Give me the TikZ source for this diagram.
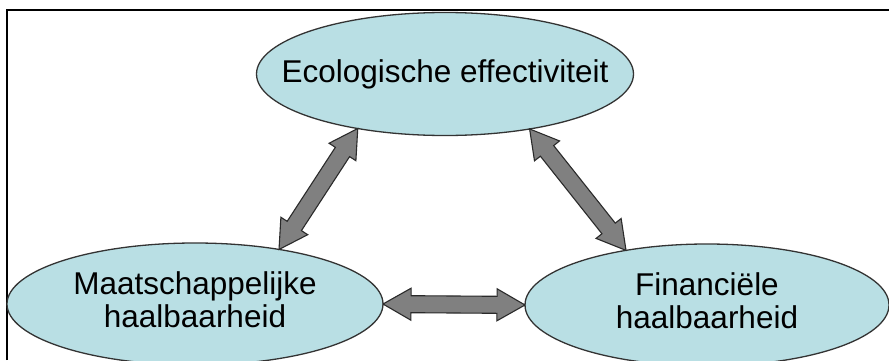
\documentclass[tikz,border=0pt]{standalone}
\usepackage{fontspec}
\setmainfont{Liberation Sans}
\usetikzlibrary{calc,shapes.geometric}

\definecolor{bubble}{HTML}{B9DFE4}
\definecolor{bubbleline}{HTML}{333333}
\definecolor{arrowfill}{HTML}{808080}
\definecolor{arrowline}{HTML}{2A2A2A}

% Two-headed block arrow between two named points
\newcommand\fatarrow[2]{%
  \draw[twoway] (#1)
    -- ($(#1)!28pt!(#2)!16pt!90:(#2)$)
    -- ($(#1)!28pt!(#2)!8.5pt!90:(#2)$)
    -- ($(#2)!28pt!(#1)!8.5pt!-90:(#1)$)
    -- ($(#2)!28pt!(#1)!16pt!-90:(#1)$)
    -- (#2)
    -- ($(#2)!28pt!(#1)!16pt!90:(#1)$)
    -- ($(#2)!28pt!(#1)!8.5pt!90:(#1)$)
    -- ($(#1)!28pt!(#2)!8.5pt!-90:(#2)$)
    -- ($(#1)!28pt!(#2)!16pt!-90:(#2)$)
    -- cycle;}

% two centred lines, lifted slightly inside their ellipse
\newcommand\twolines[2]{\makebox[0pt]{\raisebox{4pt}{\begin{tabular}{@{}c@{}}#1\\#2\end{tabular}}}}

\begin{document}
\begin{tikzpicture}[x=1pt,y=1pt,
  goal/.style={ellipse, draw=bubbleline, line width=1.3pt, fill=bubble,
    inner sep=0pt, outer sep=0pt, align=center,
    font=\fontsize{31.5}{33}\selectfont},
  twoway/.style={fill=arrowfill, draw=arrowline, line width=1.1pt, line join=miter}]
\useasboundingbox (0,0) rectangle (889,360);
\fill[white] (0,0) rectangle (889,360);

% frame
\draw[line width=1.6pt] (7,0) -- (7,350) -- (889,350);

% the three goals
\node[goal, minimum width=377pt, minimum height=123pt] (eco) at (445,286)
  {\makebox[0pt]{Ecologische effectiviteit}};
\node[goal, minimum width=376pt, minimum height=122pt] (maat) at (195,56)
  {\twolines{Maatschappelijke}{haalbaarheid}};
\node[goal, minimum width=364pt, minimum height=122pt] (fin) at (707,55)
  {\twolines{Financiële}{haalbaarheid}};

% connecting block arrows
\coordinate (e1) at (eco.212.5);
\coordinate (e2) at (eco.327.7);
\coordinate (m1) at (maat.33);
\coordinate (m2) at (maat.east);
\coordinate (f1) at (fin.146.8);
\coordinate (f2) at (fin.west);

\fatarrow{m1}{e1}
\fatarrow{e2}{f1}
\fatarrow{m2}{f2}
\end{tikzpicture}
\end{document}
